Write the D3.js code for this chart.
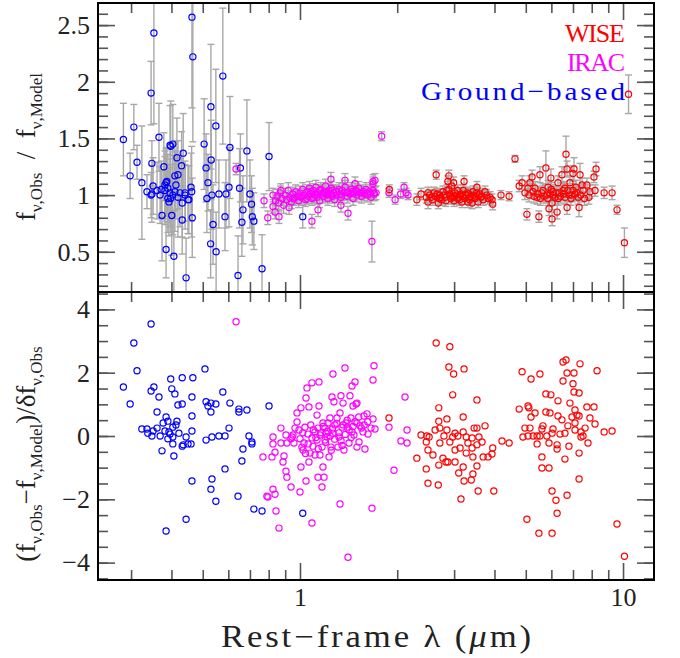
<!DOCTYPE html>
<html>
<head>
<meta charset="utf-8">
<script src="https://cdn.jsdelivr.net/npm/d3@7"></script>
<style>
  body { margin: 0; background: #fff; }
  text { font-family: "Liberation Serif", serif; }
</style>
</head>
<body>
<div id="chart"></div>
<script>
// ---- data ----
// top panel: f_obs / f_model with error bars, bottom panel: normalised residuals

// Ground-based
var groundLam = [0.284,0.298,0.306,0.313,0.324,0.336,0.346,0.348,0.353,0.351,
    0.348,0.366,0.374,0.379,0.385,0.387,0.390,0.398,0.404,0.401,
    0.407,0.413,0.416,0.419,0.432,0.432,0.435,0.430,0.441,0.444,
    0.450,0.463,0.466,0.462,0.464,0.460,0.453,0.505,0.512,0.515,
    0.519,0.530,0.531,0.529,0.538,0.534,0.549,0.550,0.561,0.577,
    0.586,0.590,0.607,0.603,0.643,0.650,0.654,0.661,0.666,0.685,
    0.700,0.708,0.712,0.720,0.763,0.802,1.02,0.346,0.361,0.369,
    0.372,0.382,0.385,0.390,0.396,0.398,0.393,0.404,0.410,0.419,
    0.425,0.441,0.410,0.396,0.382];
var groundRatio = [1.49,1.17,1.60,1.29,1.11,1.03,1.90,1.28,2.43,1.08,
    1.01,1.51,0.82,1.25,0.52,1.12,0.97,1.43,1.45,0.82,
    0.46,1.09,1.33,1.18,0.93,0.78,1.37,1.26,1.02,0.27,
    0.96,2.57,2.22,1.03,0.80,1.07,0.96,1.45,1.24,0.97,
    1.11,1.78,1.31,0.57,0.74,1.00,1.61,0.50,1.01,2.05,
    0.81,1.01,1.42,1.07,0.29,1.06,1.24,0.76,0.87,1.39,
    1.01,0.92,0.81,0.77,0.35,1.34,0.81,1.00,1.04,1.00,
    1.05,1.04,1.11,1.06,1.02,0.97,0.94,1.00,1.03,0.98,
    1.02,1.00,1.17,1.44,1.09];
var groundErr = [0.32,0.20,0.20,0.15,0.50,0.15,0.28,0.20,0.80,0.25,
    0.25,0.30,0.40,0.30,0.25,0.30,0.30,0.40,0.35,0.35,
    0.40,0.30,0.35,0.30,0.30,0.30,0.35,0.30,0.25,0.35,
    0.30,0.80,0.75,0.40,0.35,0.30,0.30,0.40,0.30,0.30,
    0.25,0.55,0.35,0.30,0.35,0.30,0.50,0.35,0.30,0.60,
    0.30,0.30,0.45,0.35,0.35,0.35,0.30,0.30,0.30,0.45,
    0.30,0.25,0.25,0.25,0.30,0.30,0.10,0.20,0.25,0.25,
    0.25,0.30,0.30,0.30,0.30,0.30,0.30,0.35,0.35,0.35,
    0.30,0.30,0.30,0.35,0.30];

// IRAC
var iracLam = [0.84,0.85,0.86,0.87,0.88,0.89,0.90,0.91,0.92,0.93,
    0.94,0.95,0.96,0.97,0.98,0.99,1.00,1.01,1.02,1.03,
    1.04,1.05,1.06,1.07,1.08,1.09,1.10,1.11,1.12,1.13,
    1.14,1.15,1.16,1.17,1.18,1.19,1.20,1.21,1.22,1.23,
    1.24,1.25,1.26,1.27,1.28,1.29,1.30,1.32,1.33,1.34,
    1.35,1.37,1.38,1.40,1.41,1.43,1.44,1.46,1.47,1.49,
    1.50,1.52,1.53,1.55,1.57,1.58,1.60,1.62,1.64,1.66,
    1.68,1.70,1.72,
    1.05,1.08,1.12,1.15,1.18,1.22,1.26,1.30,1.35,1.40,
    1.45,1.50,1.55,1.60,1.65,0.95,1.00,1.10,1.20,1.25,
    0.634,0.774,0.795,0.825,0.825,0.837,0.861,0.873,0.925,1.089,
    1.137,1.408,1.339,1.247,1.378,1.480,1.683,1.695,1.707,1.683,
    1.79,1.67,1.886,1.97,2.05,2.10,2.13,2.16];
var iracRatio = [0.95,0.99,0.93,1.02,0.97,0.91,1.00,0.96,1.04,0.98,
    0.94,1.01,0.97,1.03,0.99,0.95,1.02,0.98,1.05,1.00,
    0.96,1.03,0.99,1.06,1.01,0.97,1.04,1.00,1.07,0.98,
    1.02,0.95,1.05,1.01,0.99,1.03,1.08,1.00,0.97,1.04,
    1.01,1.06,0.99,1.02,0.96,1.03,1.00,1.05,1.01,0.98,
    1.04,1.02,1.07,0.99,1.03,1.01,1.05,0.97,1.02,1.04,
    1.00,1.06,1.02,0.99,1.03,1.01,1.05,1.00,1.03,0.98,
    1.04,1.01,1.02,
    0.97,1.03,1.01,1.04,1.02,1.01,1.04,1.03,1.00,1.02,
    1.03,1.03,1.02,1.02,1.01,0.97,0.99,0.98,1.02,1.00,
    1.23,0.95,0.80,0.90,1.00,0.85,0.81,1.04,0.89,0.77,
    0.87,0.84,0.91,1.14,1.13,1.10,1.12,1.02,1.13,1.10,
    1.52,0.59,1.02,0.96,1.01,1.07,1.02,1.00];
var iracErr = [0.07,0.06,0.07,0.06,0.06,0.07,0.06,0.06,0.07,0.06,
    0.06,0.06,0.06,0.06,0.06,0.06,0.06,0.06,0.06,0.06,
    0.06,0.06,0.06,0.06,0.06,0.06,0.06,0.06,0.06,0.06,
    0.06,0.06,0.06,0.06,0.06,0.06,0.06,0.06,0.06,0.06,
    0.06,0.06,0.06,0.06,0.06,0.06,0.06,0.06,0.06,0.06,
    0.06,0.06,0.06,0.06,0.06,0.06,0.06,0.06,0.06,0.06,
    0.06,0.06,0.06,0.06,0.06,0.06,0.06,0.06,0.06,0.06,
    0.06,0.06,0.06,
    0.05,0.05,0.05,0.05,0.05,0.05,0.05,0.05,0.05,0.05,
    0.05,0.05,0.05,0.05,0.05,0.05,0.05,0.05,0.05,0.05,
    0.05,0.06,0.06,0.06,0.06,0.06,0.06,0.06,0.06,0.06,
    0.06,0.06,0.06,0.06,0.06,0.06,0.06,0.06,0.06,0.06,
    0.04,0.18,0.04,0.04,0.04,0.04,0.04,0.04];

// WISE
var wiseLam = [2.30,2.37,2.46,2.49,2.49,2.55,2.60,2.64,2.68,2.71,
    2.75,2.77,2.81,2.85,2.87,2.89,2.95,2.97,2.99,3.02,
    3.08,3.08,3.13,3.17,3.20,3.22,3.24,3.29,3.31,3.36,
    3.41,3.43,3.48,3.53,3.56,3.56,3.63,3.69,3.74,3.82,
    3.93,3.95,4.19,4.44,2.89,
    2.52,2.57,2.62,2.66,2.73,2.79,2.83,2.91,2.93,3.00,
    3.05,3.10,3.15,3.19,3.27,3.33,3.38,3.45,3.50,3.60,
    3.66,3.78,3.88,3.00,3.12,3.35,2.70,2.95,3.25,3.52,
    4.63,4.77,4.87,4.97,5.04,5.08,5.15,5.23,5.27,5.34,
    5.42,5.49,5.53,5.61,5.65,5.77,5.81,5.86,5.90,5.98,
    6.03,6.03,6.07,6.16,6.25,6.29,6.34,6.47,6.52,6.61,
    6.66,6.71,6.71,6.75,6.85,6.95,7.00,7.05,7.15,7.20,
    7.26,7.31,7.36,7.47,7.52,7.73,7.84,7.90,8.13,8.25,
    8.19,8.74,9.25,9.58,10.1,10.4,
    5.12,5.30,5.45,5.70,5.95,6.10,6.20,6.40,6.55,6.80,
    6.90,7.10,7.40,7.60,6.00,6.60,7.00,5.55,5.85,6.30,
    1.89];
var wiseRatio = [0.96,1.01,0.98,0.94,1.02,0.98,1.02,1.18,0.93,1.00,
    0.96,1.03,0.98,1.04,1.12,1.17,1.08,0.98,1.11,1.02,
    1.04,0.97,1.00,0.94,1.04,1.12,0.97,1.02,0.94,0.98,
    0.93,1.03,0.97,1.07,1.00,0.94,0.98,0.96,1.03,0.97,
    0.96,0.92,1.00,0.99,1.05,
    1.00,0.96,0.99,1.01,0.98,1.00,0.95,1.01,0.97,0.99,
    1.00,0.98,1.01,0.99,1.00,1.01,0.99,1.00,0.99,1.01,
    0.99,1.00,0.98,0.95,0.96,0.96,0.97,0.99,1.00,1.02,
    1.32,1.08,1.11,1.02,0.83,1.06,1.11,1.16,1.03,1.06,
    0.98,0.81,1.18,1.02,1.04,1.24,1.00,1.07,0.88,1.15,
    0.93,0.79,1.03,0.98,0.85,1.11,1.02,1.18,1.04,0.98,
    1.36,1.23,0.89,1.04,1.11,1.00,1.19,1.23,1.07,1.02,
    0.98,0.89,1.18,1.09,1.04,1.09,0.98,1.03,1.16,1.23,
    1.04,1.02,1.02,0.87,0.58,1.89,
    1.00,0.99,1.01,0.99,1.01,1.00,1.02,0.99,1.01,1.00,
    0.97,1.01,1.00,0.97,1.05,1.06,1.04,0.97,0.97,0.97,
    1.05];
var wiseErr = [0.05,0.05,0.05,0.06,0.05,0.05,0.05,0.04,0.05,0.05,
    0.05,0.05,0.05,0.05,0.05,0.05,0.05,0.05,0.05,0.05,
    0.05,0.05,0.05,0.05,0.05,0.05,0.05,0.05,0.05,0.05,
    0.05,0.05,0.05,0.05,0.05,0.05,0.05,0.05,0.05,0.05,
    0.05,0.05,0.04,0.04,0.05,
    0.05,0.05,0.05,0.05,0.05,0.05,0.05,0.05,0.05,0.05,
    0.05,0.05,0.05,0.05,0.05,0.05,0.05,0.05,0.05,0.05,
    0.05,0.05,0.05,0.05,0.05,0.05,0.05,0.05,0.05,0.05,
    0.03,0.05,0.06,0.06,0.05,0.06,0.06,0.06,0.06,0.06,
    0.06,0.05,0.07,0.06,0.06,0.15,0.06,0.06,0.06,0.08,
    0.06,0.06,0.06,0.06,0.06,0.06,0.06,0.07,0.06,0.06,
    0.16,0.07,0.06,0.06,0.06,0.06,0.07,0.10,0.06,0.06,
    0.06,0.08,0.10,0.06,0.06,0.06,0.06,0.06,0.05,0.06,
    0.05,0.05,0.06,0.04,0.13,0.17,
    0.06,0.06,0.06,0.06,0.06,0.06,0.06,0.06,0.06,0.06,
    0.06,0.06,0.06,0.06,0.06,0.06,0.06,0.06,0.06,0.06,
    0.04];

// residuals (bottom panel)
var groundResLam = [0.284,0.298,0.306,0.313,0.324,0.336,0.338,0.346,0.346,0.348,
    0.351,0.353,0.361,0.361,0.366,0.369,0.374,0.377,0.382,0.385,
    0.385,0.390,0.390,0.393,0.396,0.398,0.401,0.404,0.404,0.404,
    0.407,0.410,0.413,0.416,0.419,0.422,0.432,0.432,0.432,0.435,
    0.444,0.444,0.450,0.460,0.463,0.463,0.463,0.466,0.463,0.508,
    0.512,0.512,0.519,0.530,0.530,0.530,0.534,0.534,0.549,0.549,
    0.561,0.577,0.586,0.586,0.607,0.603,0.643,0.647,0.647,0.661,
    0.666,0.685,0.695,0.710,0.710,0.720,0.763,0.802,1.02];
var groundRes = [1.55,1.01,2.94,2.06,0.22,0.22,0.09,3.54,1.42,0.00,
    0.16,1.55,0.76,0.25,1.23,0.00,-0.47,0.41,0.16,-3.00,
    0.60,0.47,-0.09,0.13,0.06,1.80,1.49,0.28,-0.03,-0.25,
    -0.63,1.33,0.35,0.47,0.98,0.09,1.84,1.01,-0.32,-0.28,
    -2.63,-0.03,-0.25,-0.25,1.23,0.63,-1.42,1.84,0.16,2.12,
    1.08,-0.13,0.95,1.04,0.76,-1.68,-1.36,-0.03,1.01,-2.06,
    0.00,1.39,0.00,-1.04,1.04,0.25,-1.90,0.76,0.85,-0.79,
    -0.41,0.82,0.00,-0.19,-0.25,-2.31,-2.37,0.95,-2.44];

var iracResLam = [0.634,0.768,0.790,0.796,0.825,0.837,0.843,0.861,0.825,0.825,
    0.837,0.819,0.873,0.886,0.892,0.873,0.905,0.905,0.911,0.938,
    0.911,0.938,0.945,0.951,0.958,0.965,0.979,0.979,0.993,1.000,
    1.007,1.007,1.000,1.014,1.022,1.029,1.036,1.044,1.044,1.051,
    1.059,1.066,1.066,1.074,1.089,1.089,1.089,1.097,1.113,1.113,
    1.129,1.129,1.137,1.137,1.145,1.145,1.153,1.153,1.170,1.170,
    1.178,1.178,1.187,1.195,1.195,1.204,1.212,1.221,1.230,1.238,
    1.247,1.256,1.265,1.265,1.274,1.283,1.302,1.311,1.320,1.330,
    1.330,1.339,1.349,1.359,1.368,1.378,1.388,1.398,1.408,1.418,
    1.428,1.438,1.449,1.449,1.459,1.469,1.480,1.491,1.501,1.501,
    1.501,1.523,1.534,1.567,1.578,1.589,1.612,1.624,1.659,1.671,
    1.683,1.683,1.695,1.707,1.886,1.954,2.054,2.114,2.145,2.145,
    1.10,1.12,1.16,1.18,1.20,1.22,1.24,1.26,1.28,1.30,
    1.32,1.34,1.36,1.38,1.40,1.42,1.44,1.46,1.48,1.52,
    1.55,1.58,1.62,1.06,1.08,1.14,1.25,1.35,1.02,1.04];
var iracRes = [3.61,-0.66,-1.90,-1.93,-1.68,-1.84,-2.37,-2.91,-0.03,-0.25,
    -0.51,-0.66,0.25,-0.82,-0.63,-0.22,0.03,-1.11,-1.30,-1.61,
    -0.22,-0.09,-0.03,0.03,-0.22,0.25,0.44,0.73,0.19,-0.09,
    0.89,-0.98,-1.77,-0.35,-0.44,-0.22,0.28,1.20,-1.42,1.52,
    0.06,0.92,-0.82,-0.54,1.68,-0.06,-2.75,-0.32,0.13,-0.60,
    -0.13,0.66,0.25,-1.30,1.71,0.95,0.03,-0.60,-0.35,-1.61,
    0.41,-0.98,-1.30,0.25,-0.13,0.09,-0.03,0.41,-0.66,0.57,
    -0.35,1.23,0.09,1.96,1.08,0.35,0.57,-0.35,-0.03,0.73,
    -2.15,1.27,0.28,1.04,-0.44,2.15,0.41,0.28,-3.83,-0.22,
    1.27,0.57,0.13,1.58,0.95,0.03,1.71,1.01,-0.35,1.04,
    0.41,-0.19,0.32,0.13,0.63,-0.41,0.70,0.06,0.25,-2.28,
    1.77,0.54,2.22,0.22,0.28,-1.08,-0.16,1.23,0.19,-0.22,
    0.20,-0.05,0.10,0.30,-0.20,0.15,0.00,0.22,-0.10,0.40,
    0.10,-0.15,0.35,0.05,0.50,0.20,-0.05,0.30,0.45,0.60,
    0.25,0.35,0.45,-0.25,0.35,-0.40,-0.45,-0.30,0.10,-0.55];

var wiseResLam = [2.64,2.91,2.89,2.99,3.22,2.97,3.53,2.69,3.20,2.69,
    2.85,3.74,2.37,2.47,2.51,2.62,2.71,2.79,2.85,2.91,
    2.97,3.02,3.08,3.20,3.27,3.31,3.41,3.46,3.53,3.58,
    3.66,2.46,2.49,2.58,2.71,2.77,2.87,3.02,3.13,3.27,
    3.41,3.43,3.53,3.69,3.82,3.93,3.95,2.30,2.46,2.69,
    2.83,3.02,3.10,3.20,3.22,3.39,3.43,3.53,2.49,2.68,
    3.15,3.56,3.98,4.22,4.44,1.886,
    4.87,5.19,5.53,4.77,5.08,5.11,5.19,5.34,4.97,5.15,
    4.90,5.08,5.27,5.42,5.65,5.61,5.77,5.98,5.77,5.94,
    5.81,5.90,6.03,6.07,6.25,6.25,6.29,6.29,6.38,6.52,
    6.52,6.66,6.71,6.47,6.61,6.75,6.80,6.85,6.95,7.00,
    7.05,7.05,7.10,7.10,7.10,7.20,7.31,7.31,7.36,7.41,
    7.41,7.52,7.63,7.73,7.79,7.90,8.13,8.19,8.31,7.31,
    6.61,5.61,5.61,5.90,6.03,6.20,6.25,6.71,7.31,5.04,
    5.49,6.03,8.74,9.25,9.58,10.1,5.42,5.53];
var wiseRes = [2.94,2.82,2.18,1.96,2.12,1.30,1.14,0.89,0.60,0.47,
    0.54,0.32,0.03,0.00,-0.03,0.19,0.25,0.00,0.19,-0.19,
    -0.03,0.09,0.00,0.13,-0.03,-0.22,-0.06,0.25,0.25,-0.03,
    -0.19,-0.19,-0.44,-0.60,-0.22,-0.70,-0.82,-0.44,-0.38,-0.54,
    -0.38,-0.66,-0.28,-0.66,-0.66,-0.57,-0.38,-0.70,-1.04,-0.92,
    -0.82,-0.82,-1.17,-0.98,-1.42,-1.39,-1.20,-0.95,-1.49,-1.55,
    -1.99,-1.74,-1.74,-0.16,-0.22,0.57,
    2.03,1.80,1.96,0.85,0.95,0.89,0.60,0.73,0.25,0.25,
    -0.03,0.00,0.00,-0.25,0.32,0.22,1.33,1.30,0.76,0.73,
    0.00,-0.22,0.09,0.22,-0.28,-0.41,0.63,1.11,0.06,1.74,
    2.34,2.40,1.99,0.51,0.09,0.32,-0.32,1.04,0.60,1.65,
    1.99,1.39,0.82,0.41,0.19,0.66,0.63,1.36,2.28,-0.03,
    0.13,0.00,0.25,0.92,-0.22,0.57,0.92,0.38,2.06,-0.54,
    -0.73,-0.66,-1.01,-1.01,-1.74,-2.03,-2.44,-1.87,-1.36,-2.63,
    -3.07,-3.07,0.13,0.16,-2.78,-3.80,0.00,0.00];

// axis ticks
var xMajor = [1, 10];
var xMinor = [0.3, 0.4, 0.5, 0.6, 0.7, 0.8, 0.9, 2, 3, 4, 5, 6, 7, 8, 9];
var yTopMajor = [0.5, 1, 1.5, 2, 2.5];
var yTopMinor = d3.range(2, 27).map(d => d / 10);
var yBotMajor = [-4, -2, 0, 2, 4];
var yBotMinor = d3.range(-9, 10).map(d => d / 2);

var legendNames = ["WISE", "IRAC", "Ground\u2212based"];
var legendColors = ["#ff0000", "#ff00ff", "#0000ff"];

// ---- layout ----
var svgWidth = 680;
var svgHeight = 658;
var frame = { left: 98, right: 654, top: 3, mid: 292, bottom: 580 };

var svg = d3.select("#chart")
    .append("svg")
    .attr("width", svgWidth)
    .attr("height", svgHeight);

var x = d3.scaleLog().domain([0.237, 12.47]).range([frame.left, frame.right]);
var yTop = d3.scaleLinear().domain([0.145, 2.695]).range([frame.mid, frame.top]);
var yBot = d3.scaleLinear().domain([-4.55, 4.55]).range([frame.bottom, frame.mid]);

var defs = svg.append("defs");
defs.append("clipPath").attr("id", "clipTop").append("rect")
    .attr("x", frame.left).attr("y", frame.top)
    .attr("width", frame.right - frame.left).attr("height", frame.mid - frame.top);
defs.append("clipPath").attr("id", "clipBot").append("rect")
    .attr("x", frame.left).attr("y", frame.mid)
    .attr("width", frame.right - frame.left).attr("height", frame.bottom - frame.mid);

function joinTop(lam, ratio, err, color) {
    return lam.map((d, i) => ({ lam: d, val: ratio[i], err: err[i], color: color }));
}
function joinBot(lam, res, color) {
    return lam.map((d, i) => ({ lam: d, val: res[i], color: color }));
}

var topData = joinTop(groundLam, groundRatio, groundErr, legendColors[2])
    .concat(joinTop(iracLam, iracRatio, iracErr, legendColors[1]))
    .concat(joinTop(wiseLam, wiseRatio, wiseErr, legendColors[0]));
var botData = joinBot(groundResLam, groundRes, legendColors[2])
    .concat(joinBot(iracResLam, iracRes, legendColors[1]))
    .concat(joinBot(wiseResLam, wiseRes, legendColors[0]));

// ---- top panel: error bars then points ----
var topPlot = svg.append("g").attr("clip-path", "url(#clipTop)");

var bars = topPlot.append("g")
    .attr("stroke", "#a8a8a8")
    .attr("stroke-width", 1.4)
    .selectAll("g")
    .data(topData)
    .enter()
    .append("g");

bars.append("line")
    .attr("x1", d => x(d.lam)).attr("x2", d => x(d.lam))
    .attr("y1", d => yTop(d.val - d.err)).attr("y2", d => yTop(d.val + d.err));
bars.append("line")
    .attr("x1", d => x(d.lam) - 3.5).attr("x2", d => x(d.lam) + 3.5)
    .attr("y1", d => yTop(d.val - d.err)).attr("y2", d => yTop(d.val - d.err));
bars.append("line")
    .attr("x1", d => x(d.lam) - 3.5).attr("x2", d => x(d.lam) + 3.5)
    .attr("y1", d => yTop(d.val + d.err)).attr("y2", d => yTop(d.val + d.err));

topPlot.append("g")
    .selectAll("circle")
    .data(topData)
    .enter()
    .append("circle")
    .attr("cx", d => x(d.lam))
    .attr("cy", d => yTop(d.val))
    .attr("r", 3.1)
    .attr("fill", "none")
    .attr("stroke", d => d.color)
    .attr("stroke-width", 1.2);

// ---- bottom panel ----
var botPlot = svg.append("g").attr("clip-path", "url(#clipBot)");

botPlot.append("g")
    .selectAll("circle")
    .data(botData)
    .enter()
    .append("circle")
    .attr("cx", d => x(d.lam))
    .attr("cy", d => yBot(d.val))
    .attr("r", 3.1)
    .attr("fill", "none")
    .attr("stroke", d => d.color)
    .attr("stroke-width", 1.2);

// ---- ticks (all pointing inwards) ----
function addTicks(axisFn, scale, pos, values, size, labels) {
    var g = svg.append("g")
        .attr("transform", pos)
        .call(axisFn(scale)
            .tickValues(values)
            .tickSize(-size)
            .tickSizeOuter(0)
            .tickPadding(8)
            .tickFormat(labels ? d3.format("") : ""));
    g.select(".domain").remove();
    g.attr("font-family", "Liberation Serif").attr("font-size", 26);
    g.selectAll("line").attr("stroke", "#555").attr("stroke-width", 1.6);
    g.selectAll("text").attr("fill", "#222");
}

var tl = `translate(${frame.left},0)`;
var tr = `translate(${frame.right},0)`;

// top panel
addTicks(d3.axisTop, x, `translate(0,${frame.top})`, xMinor, 10, false);
addTicks(d3.axisTop, x, `translate(0,${frame.top})`, xMajor, 17, false);
addTicks(d3.axisBottom, x, `translate(0,${frame.mid})`, xMinor, 10, false);
addTicks(d3.axisBottom, x, `translate(0,${frame.mid})`, xMajor, 17, false);
addTicks(d3.axisLeft, yTop, tl, yTopMinor, 10, false);
addTicks(d3.axisLeft, yTop, tl, yTopMajor, 17, true);
addTicks(d3.axisRight, yTop, tr, yTopMinor, 10, false);
addTicks(d3.axisRight, yTop, tr, yTopMajor, 17, false);

// bottom panel
addTicks(d3.axisTop, x, `translate(0,${frame.mid})`, xMinor, 10, false);
addTicks(d3.axisTop, x, `translate(0,${frame.mid})`, xMajor, 17, false);
addTicks(d3.axisBottom, x, `translate(0,${frame.bottom})`, xMinor, 10, false);
addTicks(d3.axisBottom, x, `translate(0,${frame.bottom})`, xMajor, 17, true);
addTicks(d3.axisLeft, yBot, tl, yBotMinor, 10, false);
addTicks(d3.axisLeft, yBot, tl, yBotMajor, 17, true);
addTicks(d3.axisRight, yBot, tr, yBotMinor, 10, false);
addTicks(d3.axisRight, yBot, tr, yBotMajor, 17, false);

// frames
svg.append("rect")
    .attr("x", frame.left).attr("y", frame.top)
    .attr("width", frame.right - frame.left).attr("height", frame.bottom - frame.top)
    .attr("fill", "none").attr("stroke", "#000").attr("stroke-width", 2);
svg.append("line")
    .attr("x1", frame.left).attr("x2", frame.right)
    .attr("y1", frame.mid).attr("y2", frame.mid)
    .attr("stroke", "#000").attr("stroke-width", 2);

// ---- legend (wide glyphs, stretched horizontally) ----
var legendWidths = [60, 58, 204];
var legendStretch = [1.0, 1.0, 1.12];
svg.append("g")
    .selectAll("text")
    .data(legendNames)
    .enter()
    .append("text")
    .attr("transform", (d, i) => `translate(625,${42 + i * 29}) scale(${legendStretch[i]},1)`)
    .attr("text-anchor", "end")
    .attr("font-size", 26)
    .attr("fill", (d, i) => legendColors[i])
    .attr("textLength", (d, i) => legendWidths[i] / legendStretch[i])
    .attr("lengthAdjust", "spacing")
    .text(d => d);

// ---- axis titles ----
var xTitle = svg.append("text")
    .attr("transform", "translate(376,647) scale(1.12,1)")
    .attr("text-anchor", "middle")
    .attr("font-size", 31)
    .attr("fill", "#222")
    .attr("textLength", 277)
    .attr("lengthAdjust", "spacing");
xTitle.append("tspan").text("Rest\u2212frame \u03bb (");
xTitle.append("tspan").attr("font-style", "italic").text("\u03bc");
xTitle.append("tspan").text("m)");

function yTitle(cx, cy, parts) {
    var t = svg.append("text")
        .attr("transform", `translate(${cx},${cy}) rotate(-90)`)
        .attr("text-anchor", "middle")
        .attr("fill", "#222")
        .style("white-space", "pre");
    parts.forEach(function (p) {
        t.append("tspan")
            .attr("font-size", p.sub ? 17 : 27)
            .attr("dy", p.dy || 0)
            .text(p.s);
    });
}

yTitle(35, 147, [
    { s: "f" },
    { s: "\u03bd,Obs", sub: true, dy: 7 },
    { s: "  /  f", dy: -7 },
    { s: "\u03bd,Model", sub: true, dy: 7 }
]);

yTitle(35, 454, [
    { s: "(f" },
    { s: "\u03bd,Obs", sub: true, dy: 7 },
    { s: "\u2212f", dy: -7 },
    { s: "\u03bd,Model", sub: true, dy: 7 },
    { s: ")/\u03b4f", dy: -7 },
    { s: "\u03bd,Obs", sub: true, dy: 7 }
]);
</script>
</body>
</html>
